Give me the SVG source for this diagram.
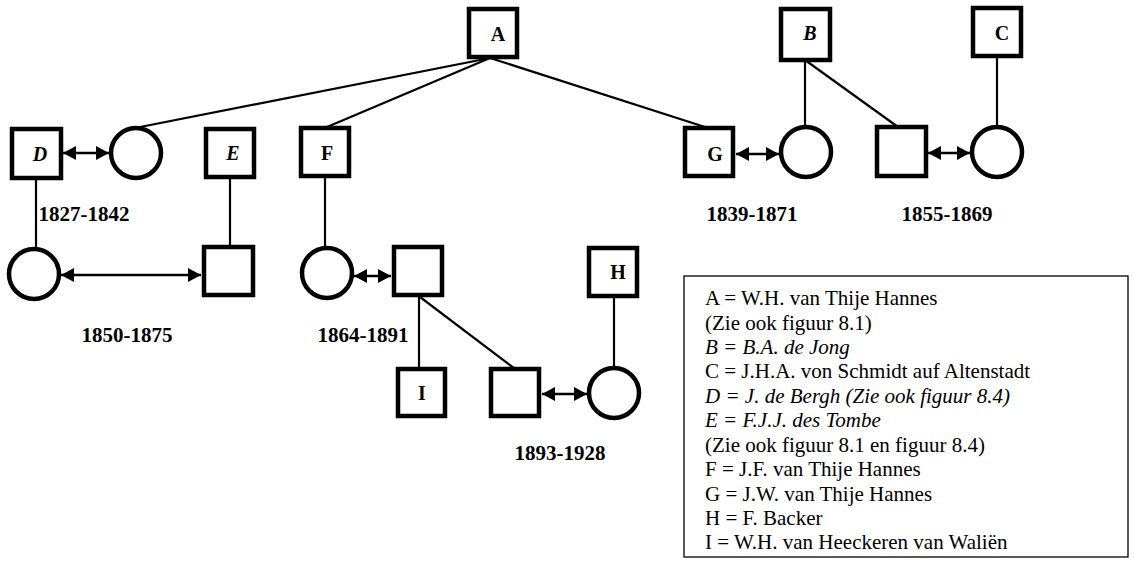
<svg xmlns="http://www.w3.org/2000/svg" width="1134" height="561" viewBox="0 0 1134 561">
<style>
.sq{fill:#fff;stroke:#000;stroke-width:4.5}
.ci{fill:#fff;stroke:#000;stroke-width:4.5}
.ln{stroke:#000;stroke-width:2.2;fill:none}
.ar{stroke:#000;stroke-width:2.5;fill:none;marker-start:url(#ah);marker-end:url(#ah)}
.lb{font-family:"Liberation Serif","Times New Roman",serif;font-size:20px;font-weight:bold;text-anchor:middle}
.yr{font-family:"Liberation Serif","Times New Roman",serif;font-size:21px;font-weight:bold;text-anchor:middle}
.lg{font-family:"Liberation Serif","Times New Roman",serif;font-size:21px}
.it{font-style:italic}
</style>
<defs>
<marker id="ah" viewBox="0 0 13 14" refX="13" refY="7" markerWidth="13" markerHeight="14" markerUnits="userSpaceOnUse" orient="auto-start-reverse">
<path d="M0,0 L13,7 L0,14 z" fill="#000"/>
</marker>
</defs>
<g id="connectors">
<line class="ln" x1="490" y1="58" x2="130" y2="129"/>
<line class="ln" x1="490" y1="58" x2="327" y2="127"/>
<line class="ln" x1="490" y1="58" x2="705" y2="127"/>
<line class="ln" x1="805" y1="60" x2="805" y2="128"/>
<line class="ln" x1="805" y1="60" x2="898" y2="127"/>
<line class="ln" x1="997" y1="58" x2="997" y2="128"/>
<line class="ln" x1="36" y1="178" x2="36" y2="249"/>
<line class="ln" x1="230" y1="178" x2="230" y2="247"/>
<line class="ln" x1="325" y1="178" x2="325" y2="249"/>
<line class="ln" x1="419" y1="297" x2="419" y2="369"/>
<line class="ln" x1="420" y1="297" x2="515" y2="369"/>
<line class="ln" x1="614" y1="298" x2="614" y2="369"/>
<line class="ar" x1="63" y1="153" x2="109" y2="153"/>
<line class="ar" x1="736" y1="154" x2="779" y2="154"/>
<line class="ar" x1="928" y1="153" x2="970" y2="153"/>
<line class="ar" x1="61" y1="275" x2="201" y2="275"/>
<line class="ar" x1="354" y1="276" x2="391" y2="276"/>
<line class="ar" x1="542" y1="394" x2="587" y2="394"/>
</g>
<g id="A"><rect class="sq" x="469" y="9" width="48" height="48"/><text class="lb" x="498" y="41">A</text></g>
<g id="B"><rect class="sq" x="781" y="9" width="49" height="51"/><text class="lb it" x="810" y="40">B</text></g>
<g id="C"><rect class="sq" x="973" y="8" width="48" height="48"/><text class="lb" x="1002" y="40">C</text></g>
<g id="D"><rect class="sq" x="12" y="129" width="49" height="49"/><text class="lb it" x="40" y="161">D</text></g>
<g id="D_spouse"><circle class="ci" cx="136" cy="153" r="25"/></g>
<g id="E"><rect class="sq" x="206" y="129" width="48" height="48"/><text class="lb it" x="233" y="160">E</text></g>
<g id="F"><rect class="sq" x="301" y="128" width="48" height="48"/><text class="lb" x="327" y="160">F</text></g>
<g id="G"><rect class="sq" x="685" y="128" width="48" height="48"/><text class="lb" x="715" y="161">G</text></g>
<g id="G_spouse"><circle class="ci" cx="806" cy="152" r="25"/></g>
<g id="B_son"><rect class="sq" x="877" y="127" width="49" height="49"/></g>
<g id="C_daughter"><circle class="ci" cx="997" cy="152" r="25"/></g>
<g id="D_daughter"><circle class="ci" cx="34" cy="274" r="25"/></g>
<g id="E_son"><rect class="sq" x="204" y="247" width="49" height="48"/></g>
<g id="F_daughter"><circle class="ci" cx="327" cy="273" r="25"/></g>
<g id="F_spouse"><rect class="sq" x="394" y="247" width="48" height="48"/></g>
<g id="H"><rect class="sq" x="589" y="248" width="48" height="48"/><text class="lb" x="618" y="279">H</text></g>
<g id="I"><rect class="sq" x="398" y="369" width="47" height="47"/><text class="lb" x="422" y="400">I</text></g>
<g id="I_brother"><rect class="sq" x="491" y="369" width="48" height="47"/></g>
<g id="H_daughter"><circle class="ci" cx="614" cy="393" r="25"/></g>
<g id="years">
<text class="yr" x="84" y="221">1827-1842</text>
<text class="yr" x="752" y="221">1839-1871</text>
<text class="yr" x="947" y="221">1855-1869</text>
<text class="yr" x="127" y="342">1850-1875</text>
<text class="yr" x="363" y="342">1864-1891</text>
<text class="yr" x="560" y="460">1893-1928</text>
</g>
<g id="legend">
<rect x="684" y="276" width="444" height="281" fill="#fff" stroke="#000" stroke-width="1.3"/>
<text class="lg" x="705" y="305">A = W.H. van Thije Hannes</text>
<text class="lg" x="705" y="330">(Zie ook figuur 8.1)</text>
<text class="lg it" x="705" y="354">B = B.A. de Jong</text>
<text class="lg" x="705" y="378">C = J.H.A. von Schmidt auf Altenstadt</text>
<text class="lg it" x="705" y="403">D = J. de Bergh (Zie ook figuur 8.4)</text>
<text class="lg it" x="705" y="427">E = F.J.J. des Tombe</text>
<text class="lg" x="705" y="452">(Zie ook figuur 8.1 en figuur 8.4)</text>
<text class="lg" x="705" y="476">F = J.F. van Thije Hannes</text>
<text class="lg" x="705" y="501">G = J.W. van Thije Hannes</text>
<text class="lg" x="705" y="525">H = F. Backer</text>
<text class="lg" x="705" y="549">I = W.H. van Heeckeren van Waliën</text>
</g>
</svg>
